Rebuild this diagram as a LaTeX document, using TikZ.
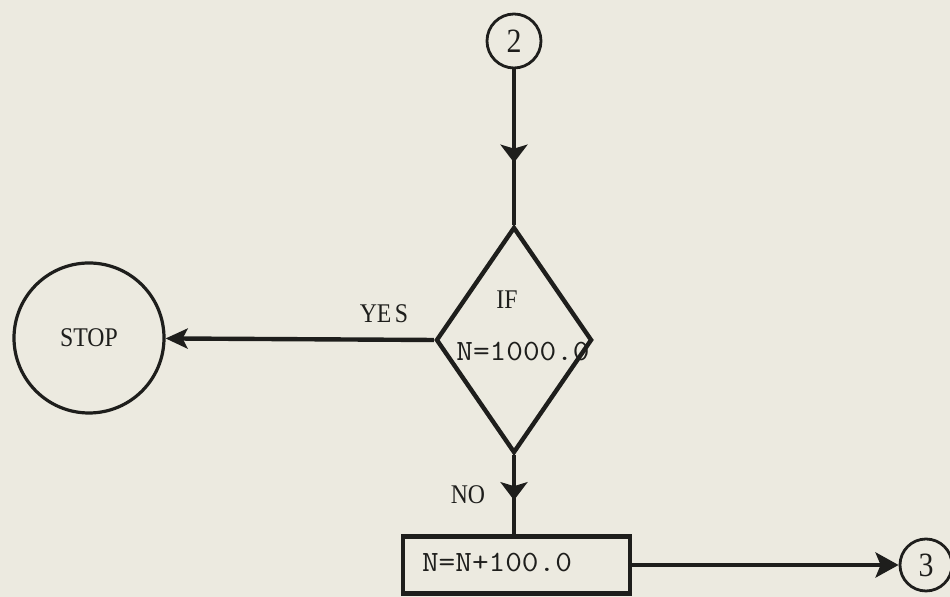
\documentclass[tikz,border=0pt]{standalone}
\usepackage{fontspec}
\usepackage{graphicx}
\newfontfamily\twserif{Liberation Serif}
\usetikzlibrary{shapes.geometric,arrows.meta,decorations.markings}
\definecolor{paper}{RGB}{236,234,224}
\definecolor{ink}{RGB}{30,30,28}
\newcommand{\hsqz}[1]{\scalebox{0.88}[1]{#1}}
\newcommand{\hwide}[1]{\scalebox{1.1}[1]{#1}}
\tikzset{
  conn/.style={draw=ink, line width=2.2pt},
  midarrow/.style={postaction={decorate},
    decoration={markings, mark=at position #1 with {\arrow[ink]{Stealth[length=9pt,width=13.5pt,inset=2pt]}}}},
  ring/.style={circle, draw=ink, line width=1.4pt, inner sep=0pt, text=ink},
  decide/.style={diamond, draw=ink, line width=2.2pt, inner sep=0pt, minimum width=78pt, minimum height=113pt},
  stepbox/.style={rectangle, draw=ink, line width=2.4pt, inner sep=0pt, minimum width=113.5pt, minimum height=28.5pt},
  serif/.style={text=ink, inner sep=0pt, font=\twserif\fontsize{13.5}{15}\selectfont},
  mono/.style={text=ink, inner sep=0pt, font=\fontsize{14.7}{17}\selectfont\ttfamily},
  digit/.style={font=\twserif\fontsize{17}{19}\selectfont}
}
\begin{document}
\begin{tikzpicture}[x=0.5pt, y=-0.5pt]
\path[use as bounding box, fill=paper] (0,0) rectangle (950,597);

\node[ring, digit, minimum size=27pt] (c2) at (514,41) {\hsqz{2}};
\node[decide] (d) at (514,340) {};
\node[serif] (iftxt) at (507,300) {\hsqz{IF}};
\node[mono] (cond) at (523,352) {\hwide{N=1000.0}};

\node[ring, serif, minimum size=75pt, line width=1.6pt] (stop) at (89,338) {\hsqz{STOP}};
\node[serif] (yes) at (384,314) {\hsqz{YE\hspace{2pt}S}};
\node[serif] (no) at (468,495) {\hsqz{NO}};

\node[stepbox] (box) at (516.5,565) {};
\node[mono] (boxtxt) at (497,563) {\hwide{N=N+100.0}};

\node[ring, digit, minimum size=26pt] (c3) at (926,565) {\hsqz{3}};

\draw[conn, midarrow=0.6] (c2) -- (d.north);
\draw[conn, -{Stealth[length=11pt,width=10pt,inset=2.5pt]}] (d.west) -- (stop);
\draw[conn, midarrow=0.57] (d.south) -- (d.south |- box.north);
\draw[conn, -{Stealth[length=11.5pt,width=12.5pt,inset=2.5pt]}] (box.east) -- (c3);
\end{tikzpicture}
\end{document}
